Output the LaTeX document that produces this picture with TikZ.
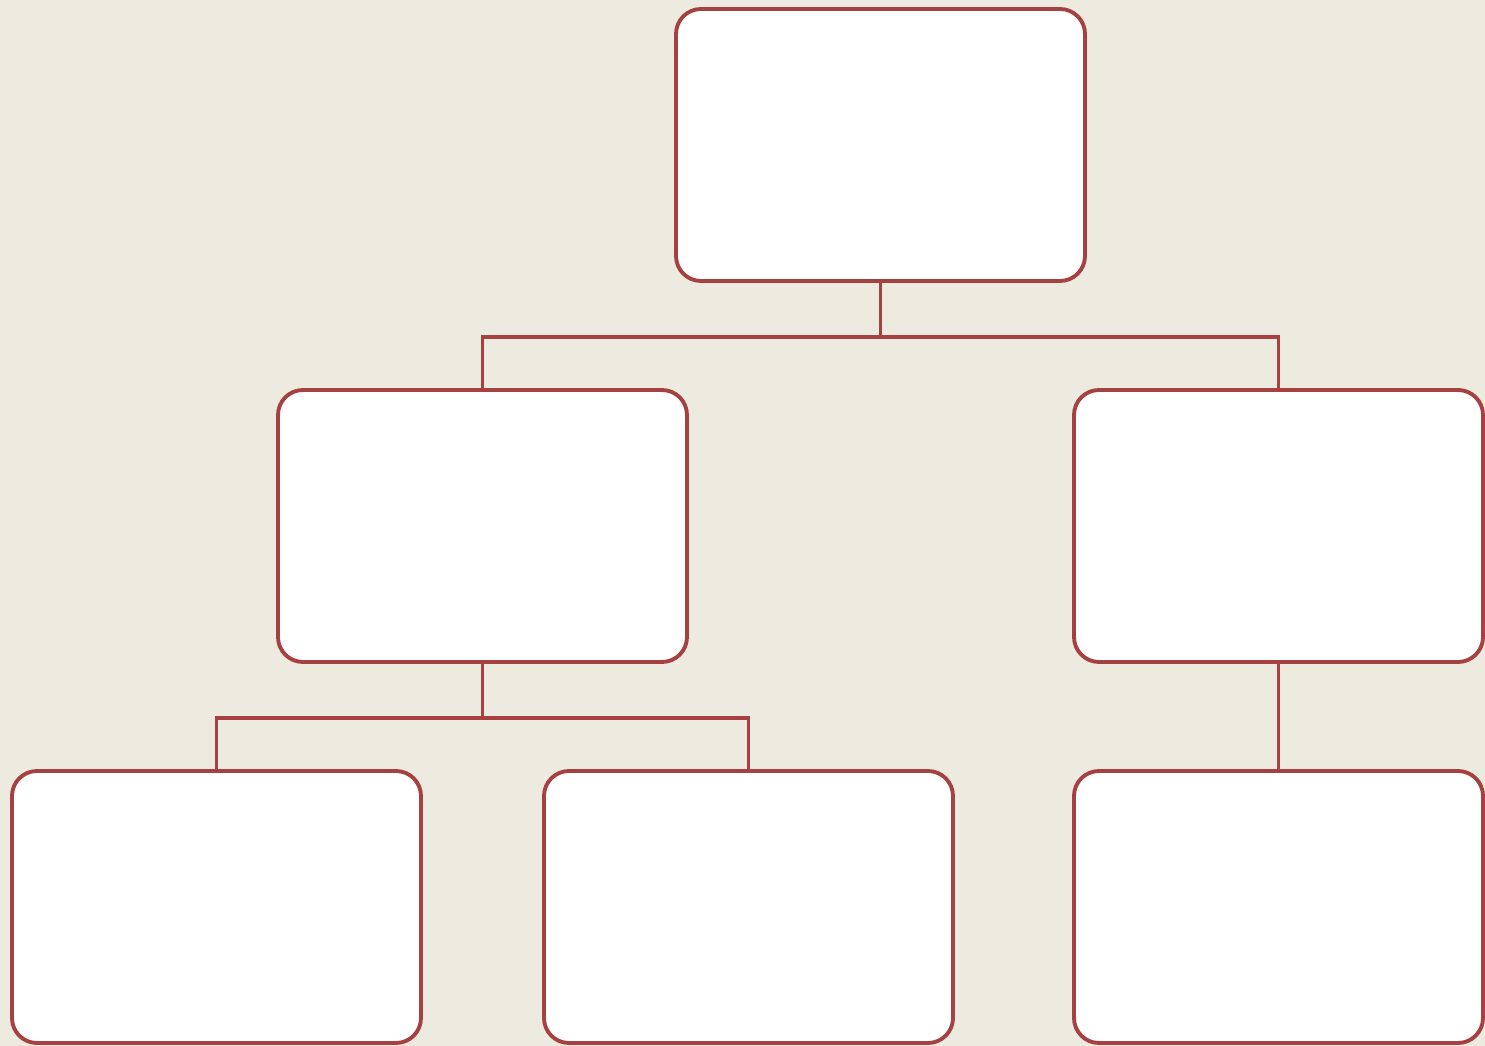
\documentclass[tikz,border=0pt]{standalone}
\usepackage{xcolor}
\usepackage{tikz}
\usetikzlibrary{positioning}
\definecolor{myrust}{RGB}{165,65,64}
\definecolor{hdrbeige}{RGB}{237,234,224}
\tikzset{
  box/.style={rectangle, draw=myrust, fill=white,
    minimum width=4.09cm, minimum height=2.72cm,
    rounded corners=0.25cm, line width=1.1pt},
  link/.style={draw=myrust, line width=1.1pt}
}
\begin{document}
\begin{tikzpicture}[
  level 1/.style={sibling distance=7.96cm, level distance=3.81cm},
  level 2/.style={sibling distance=5.32cm, level distance=3.81cm},
  edge from parent/.style={link},
  edge from parent path={(\tikzparentnode.south) -- ++(0,-0.54) -| (\tikzchildnode.north)}
]
  \useasboundingbox[fill=hdrbeige] (-8.805,1.45) rectangle ++(14.85,-10.46);
  \node[box] (root) {}
    child { node[box] (left) {}
      child { node[box] (leftA) {} }
      child { node[box] (leftB) {} }
    }
    child { node[box] (right) {}
      child { node[box] (rightA) {} }
    };
\end{tikzpicture}
\end{document}
